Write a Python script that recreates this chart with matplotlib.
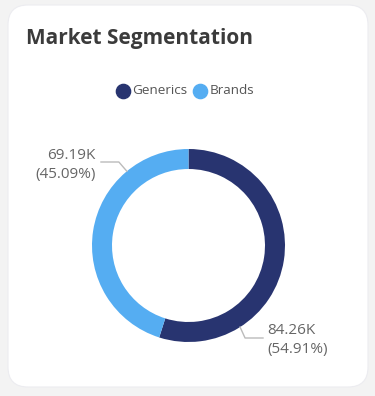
import numpy as np
import matplotlib.pyplot as plt
from matplotlib.patches import FancyBboxPatch

# data
segments = ["Generics", "Brands"]
values = [84.26, 69.19]  # thousands
colors = ["#283470", "#55adf2"]

W, H = 375, 396
fig = plt.figure(figsize=(W / 100, H / 100), dpi=100)
fig.patch.set_facecolor("#f3f3f3")

ax = fig.add_axes([0, 0, 1, 1])
ax.set_xlim(0, W)
ax.set_ylim(0, H)
ax.axis("off")

# white card
card = FancyBboxPatch((8 + 20, 9 + 20), 360 - 40, 382 - 40,
                      boxstyle="round,pad=20", fc="white", ec="#ececf0", lw=0.8)
ax.add_patch(card)

ax.text(26, H - 44, "Market Segmentation", fontsize=15, fontweight="bold",
        color="#3b3b3b", family="Open Sans", va="baseline", ha="left")

# donut
cx, cy, r = 188.5, H - 245.5, 96.5
wedges, _ = ax.pie(values, colors=colors, startangle=90, counterclock=False,
                   center=(cx, cy), radius=r,
                   wedgeprops=dict(width=20, edgecolor="none"))
ax.set_xlim(0, W)
ax.set_ylim(0, H)
ax.set_aspect("equal")

# legend
lx, ly = 123, H - 91
ax.scatter([lx], [ly], s=105, color=colors[0], zorder=5)
ax.text(lx + 9, ly, segments[0], fontsize=9.7, color="#555555",
        family="Open Sans", va="center")
ax.scatter([lx + 77], [ly], s=105, color=colors[1], zorder=5)
ax.text(lx + 87, ly, segments[1], fontsize=9.7, color="#555555",
        family="Open Sans", va="center")

# data labels
total = sum(values)
lbl = [f"{v:.2f}K\n({v / total * 100:.2f}%)" for v in values]

# Generics label (bottom right)
ang = np.deg2rad(90 - 147.7)
p0 = (cx + r * np.cos(ang), cy + r * np.sin(ang))
ax.plot([p0[0], p0[0] + 5, 263], [p0[1], H - 338, H - 338], color="#bbbbbb", lw=1)
ax.text(267, H - 340, lbl[0], fontsize=11, color="#666666", family="Open Sans",
        ha="left", va="center", linespacing=1.4)

# Brands label (top left)
ang = np.deg2rad(90 + 39.7)
p1 = (cx + r * np.cos(ang), cy + r * np.sin(ang))
ax.plot([p1[0], p1[0] - 8, 101], [p1[1], H - 162, H - 162], color="#bbbbbb", lw=1)
ax.text(96, H - 165, lbl[1], fontsize=11, color="#666666", family="Open Sans",
        ha="right", va="center", linespacing=1.4, multialignment="right")

fig.savefig("out.png", dpi=100, facecolor=fig.get_facecolor())
